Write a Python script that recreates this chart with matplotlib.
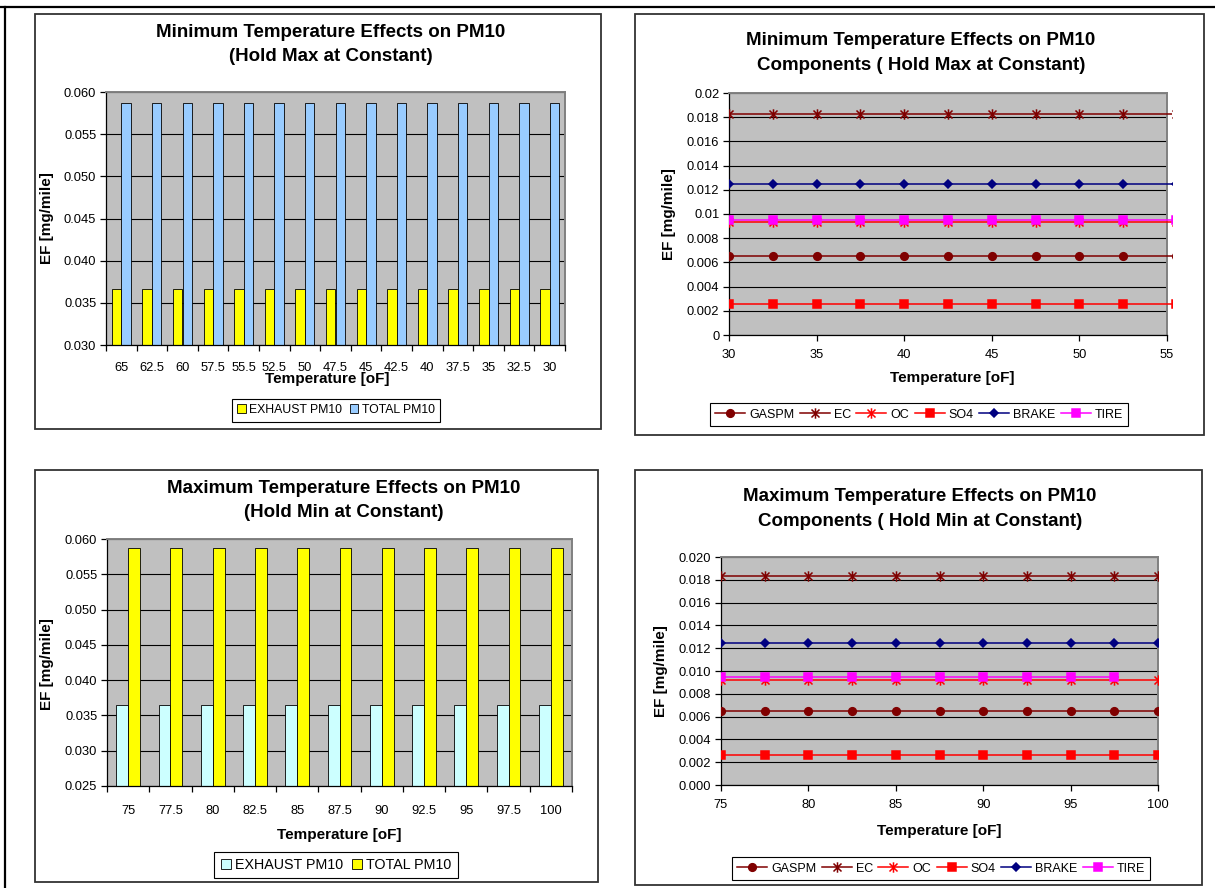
import numpy as np
import matplotlib
matplotlib.use('Agg')
import matplotlib.pyplot as plt
from matplotlib.patches import Rectangle
from matplotlib.lines import Line2D
from matplotlib.path import Path
from matplotlib.ticker import FuncFormatter

plt.rcParams['font.family'] = ['Liberation Sans', 'DejaVu Sans']

W, H = 1215, 888

# minimum temperature runs (max held constant)
min_labels = ['65', '62.5', '60', '57.5', '55.5', '52.5', '50', '47.5', '45', '42.5',
              '40', '37.5', '35', '32.5', '30']
min_temps = [65, 62.5, 60, 57.5, 55.5, 52.5, 50, 47.5, 45, 42.5, 40, 37.5, 35, 32.5, 30]
min_exhaust = [0.0366, 0.0366, 0.0366, 0.0366, 0.0366, 0.0366, 0.0366, 0.0366,
               0.0366, 0.0366, 0.0366, 0.0366, 0.0366, 0.0366, 0.0366]
min_total = [0.0587, 0.0587, 0.0587, 0.0587, 0.0587, 0.0587, 0.0587, 0.0587,
             0.0587, 0.0587, 0.0587, 0.0587, 0.0587, 0.0587, 0.0587]

min_gaspm = [0.0065, 0.0065, 0.0065, 0.0065, 0.0065, 0.0065, 0.0065, 0.0065,
             0.0065, 0.0065, 0.0065, 0.0065, 0.0065, 0.0065, 0.0065]
min_ec = [0.0183, 0.0183, 0.0183, 0.0183, 0.0183, 0.0183, 0.0183, 0.0183,
          0.0183, 0.0183, 0.0183, 0.0183, 0.0183, 0.0183, 0.0183]
min_oc = [0.0093, 0.0093, 0.0093, 0.0093, 0.0093, 0.0093, 0.0093, 0.0093,
          0.0093, 0.0093, 0.0093, 0.0093, 0.0093, 0.0093, 0.0093]
min_so4 = [0.0026, 0.0026, 0.0026, 0.0026, 0.0026, 0.0026, 0.0026, 0.0026,
           0.0026, 0.0026, 0.0026, 0.0026, 0.0026, 0.0026, 0.0026]
min_brake = [0.0125, 0.0125, 0.0125, 0.0125, 0.0125, 0.0125, 0.0125, 0.0125,
             0.0125, 0.0125, 0.0125, 0.0125, 0.0125, 0.0125, 0.0125]
min_tire = [0.0095, 0.0095, 0.0095, 0.0095, 0.0095, 0.0095, 0.0095, 0.0095,
            0.0095, 0.0095, 0.0095, 0.0095, 0.0095, 0.0095, 0.0095]

# maximum temperature runs (min held constant)
max_labels = ['75', '77.5', '80', '82.5', '85', '87.5', '90', '92.5', '95', '97.5', '100']
max_temps = [75, 77.5, 80, 82.5, 85, 87.5, 90, 92.5, 95, 97.5, 100]
max_exhaust = [0.0365, 0.0365, 0.0365, 0.0365, 0.0365, 0.0365, 0.0365, 0.0365,
               0.0365, 0.0365, 0.0365]
max_total = [0.0587, 0.0587, 0.0587, 0.0587, 0.0587, 0.0587, 0.0587, 0.0587,
             0.0587, 0.0587, 0.0587]

max_gaspm = [0.0065, 0.0065, 0.0065, 0.0065, 0.0065, 0.0065, 0.0065, 0.0065,
             0.0065, 0.0065, 0.0065]
max_ec = [0.0183, 0.0183, 0.0183, 0.0183, 0.0183, 0.0183, 0.0183, 0.0183,
          0.0183, 0.0183, 0.0183]
max_oc = [0.0092, 0.0092, 0.0092, 0.0092, 0.0092, 0.0092, 0.0092, 0.0092,
          0.0092, 0.0092, 0.0092]
max_so4 = [0.0026, 0.0026, 0.0026, 0.0026, 0.0026, 0.0026, 0.0026, 0.0026,
           0.0026, 0.0026, 0.0026]
max_brake = [0.0125, 0.0125, 0.0125, 0.0125, 0.0125, 0.0125, 0.0125, 0.0125,
             0.0125, 0.0125, 0.0125]
max_tire = [0.0095, 0.0095, 0.0095, 0.0095, 0.0095, 0.0095, 0.0095, 0.0095,
            0.0095, 0.0095, np.nan]

# excel-style star marker: an X with a vertical bar through it
star = Path([(-1, -1), (1, 1), (-1, 1), (1, -1), (0, -1.3), (0, 1.3)],
            [Path.MOVETO, Path.LINETO, Path.MOVETO, Path.LINETO, Path.MOVETO, Path.LINETO])

component_styles = [
    ('GASPM', '#800000', 'o', 5.5),
    ('EC', '#800000', star, 7.5),
    ('OC', '#ff0000', star, 7.5),
    ('SO4', '#ff0000', 's', 5.3),
    ('BRAKE', '#000080', 'D', 4.5),
    ('TIRE', '#ff00ff', 's', 5.3),
]

fig = plt.figure(figsize=(W / 100, H / 100), dpi=100)


def fx(x):
    return x / W


def fy(y):
    return 1 - y / H


def axes_px(x0, y0, x1, y1):
    return fig.add_axes([fx(x0), fy(y1), (x1 - x0) / W, (y1 - y0) / H])


def panel_box(x0, y0, x1, y1):
    fig.add_artist(Rectangle((fx(x0), fy(y1)), (x1 - x0) / W, (y1 - y0) / H,
                             transform=fig.transFigure, fill=False,
                             ec='#333333', lw=1.3))


def style_axes(ax, xpad):
    ax.set_facecolor('#c0c0c0')
    ax.grid(axis='y', color='black', lw=0.8)
    ax.grid(axis='x', visible=False)
    ax.set_axisbelow(True)
    for s in ('top', 'right'):
        ax.spines[s].set_color('#808080')
        ax.spines[s].set_linewidth(1.4)
    for s in ('left', 'bottom'):
        ax.spines[s].set_color('black')
        ax.spines[s].set_linewidth(0.9)
    ax.tick_params(axis='both', which='both', direction='out', length=4, width=0.9,
                   labelsize=9.3, colors='black')
    ax.tick_params(axis='y', pad=3)
    ax.tick_params(axis='x', pad=xpad)


def texts(title_xy, title, xlab_xy, ylab_xy):
    fig.text(fx(title_xy[0]), fy(title_xy[1]), title, ha='center', va='center',
             fontsize=13.5, fontweight='bold', linespacing=1.55)
    fig.text(fx(xlab_xy[0]), fy(xlab_xy[1]), 'Temperature [oF]', ha='center', va='center',
             fontsize=11, fontweight='bold')
    fig.text(fx(ylab_xy[0]), fy(ylab_xy[1]), 'EF [mg/mile]', ha='center', va='center',
             fontsize=11, fontweight='bold', rotation=90)


def bar_panel(ax, labels, exhaust, total, colors, bw, ylim, legend_xy, legend_size):
    xi = np.arange(len(labels))
    ax.bar(xi - bw / 2, exhaust, bw, color=colors[0], edgecolor='black', lw=0.6,
           label='EXHAUST PM10')
    ax.bar(xi + bw / 2, total, bw, color=colors[1], edgecolor='black', lw=0.6,
           label='TOTAL PM10')
    ax.set_xlim(-0.5, len(labels) - 0.5)
    ax.set_ylim(*ylim)
    ax.set_yticks(np.arange(ylim[0], ylim[1] + 1e-9, 0.005))
    ax.yaxis.set_major_formatter(FuncFormatter(lambda v, p: f'{v:.3f}'))
    ax.set_xticks(xi, labels)
    ax.set_xticks(np.arange(-0.5, len(labels)), minor=True)
    ax.tick_params(axis='x', which='major', length=0)
    handles, names = ax.get_legend_handles_labels()
    leg = fig.legend(handles, names, loc='center',
                     bbox_to_anchor=(fx(legend_xy[0]), fy(legend_xy[1])),
                     ncol=2, fontsize=legend_size, frameon=True, fancybox=False,
                     edgecolor='black', framealpha=1, borderpad=0.45,
                     handlelength=0.7, handleheight=0.7, handletextpad=0.3,
                     columnspacing=0.6, borderaxespad=0)
    leg.get_frame().set_linewidth(0.8)


def line_panel(ax, x, series, xlim, xticks, ylabel_fmt, legend_xy, overhang=0.0):
    for (name, color, marker, ms), vals in zip(component_styles, series):
        line, = ax.plot(x, vals, color=color, lw=1.1, marker=marker, ms=ms,
                        mfc=color, mec=color, mew=1.1, label=name, zorder=3)
        if overhang:
            line.set_clip_path(Rectangle((0, 0), 1 + overhang, 1,
                                         transform=ax.transAxes))
    ax.set_xlim(*xlim)
    ax.set_xticks(xticks)
    ax.set_ylim(0, 0.02)
    ax.set_yticks(np.linspace(0, 0.02, 11))
    ax.yaxis.set_major_formatter(FuncFormatter(ylabel_fmt))
    handles, names = ax.get_legend_handles_labels()
    leg = fig.legend(handles, names, loc='center',
                     bbox_to_anchor=(fx(legend_xy[0]), fy(legend_xy[1])),
                     ncol=6, fontsize=9, frameon=True, fancybox=False,
                     edgecolor='black', framealpha=1, borderpad=0.45,
                     handlelength=2.4, handletextpad=0.3, columnspacing=0.45,
                     borderaxespad=0)
    leg.get_frame().set_linewidth(0.8)


# outer frame lines
fig.add_artist(Line2D([fx(4.5), fx(4.5)], [fy(7), fy(888)], transform=fig.transFigure,
                      color='black', lw=1.6))
fig.add_artist(Line2D([0, 1], [fy(7), fy(7)], transform=fig.transFigure,
                      color='black', lw=1.6))

# top left: bars, minimum temperature
panel_box(35, 14, 601, 429)
ax1 = axes_px(106, 92, 565, 345)
style_axes(ax1, xpad=12)
bar_panel(ax1, min_labels, min_exhaust, min_total, ('#ffff00', '#99ccff'), 0.31,
          (0.030, 0.060), (336, 410), 8.8)
texts((331, 44.5), 'Minimum Temperature Effects on PM10\n(Hold Max at Constant)',
      (327, 379), (47, 218))

# top right: components, minimum temperature
panel_box(635, 14, 1204, 435)
ax2 = axes_px(729, 93, 1167, 335)
style_axes(ax2, xpad=6)
line_panel(ax2, min_temps, [min_gaspm, min_ec, min_oc, min_so4, min_brake, min_tire],
           (30, 55), [30, 35, 40, 45, 50, 55], lambda v, p: f'{v:g}' if v else '0',
           (919, 414.5), overhang=0.0115)
texts((921, 53), 'Minimum Temperature Effects on PM10\nComponents ( Hold Max at Constant)',
      (952, 378), (669, 214))

# bottom left: bars, maximum temperature
panel_box(35, 470, 598, 882)
ax3 = axes_px(107, 539, 572, 786)
style_axes(ax3, xpad=14)
bar_panel(ax3, max_labels, max_exhaust, max_total, ('#ccffff', '#ffff00'), 0.28,
          (0.025, 0.060), (336, 865), 10.3)
texts((344, 500.5), 'Maximum Temperature Effects on PM10\n(Hold Min at Constant)',
      (339, 835), (47, 664))

# bottom right: components, maximum temperature
panel_box(635, 470, 1202, 885)
ax4 = axes_px(721, 557, 1158, 785)
style_axes(ax4, xpad=6)
line_panel(ax4, max_temps, [max_gaspm, max_ec, max_oc, max_so4, max_brake, max_tire],
           (75, 100), [75, 80, 85, 90, 95, 100], lambda v, p: f'{v:.3f}',
           (941, 868.5))
texts((920, 509), 'Maximum Temperature Effects on PM10\nComponents ( Hold Min at Constant)',
      (939, 831), (661, 671))

fig.savefig('out.png', dpi=100)
